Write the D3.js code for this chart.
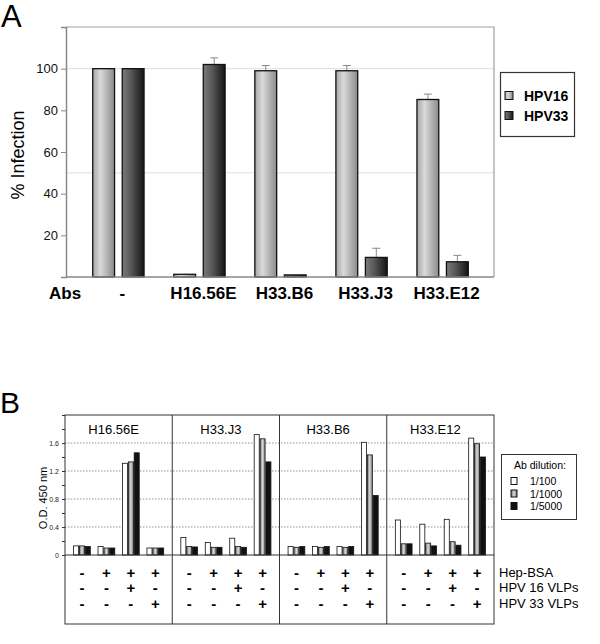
<!DOCTYPE html>
<html><head><meta charset="utf-8">
<script src="https://cdn.jsdelivr.net/npm/d3@7"></script>
<style>body{margin:0;background:#fff}svg{display:block;font-family:"Liberation Sans",Arial,sans-serif}</style>
</head><body><svg id="c" width="600" height="644"></svg>
<script>
// ---------- Panel A data ----------
const catsA = ["-", "H16.56E", "H33.B6", "H33.J3", "H33.E12"];
const seriesA = ["HPV16", "HPV33"];
const hpv16 = [100, 1.3, 99, 99, 85.2];
const hpv16Err = [0, 0, 2.5, 2.5, 2.6];
const hpv33 = [100, 102, 1.0, 9.4, 7.3];
const hpv33Err = [0, 3.2, 0, 4.4, 3.1];
const ticksA = [20, 40, 60, 80, 100];
const gridA = [50, 100];

// ---------- Panel B data ----------
const panelsB = ["H16.56E", "H33.J3", "H33.B6", "H33.E12"];
const groupsB = ["g1", "g2", "g3", "g4"];
const dilutions = ["1/100", "1/1000", "1/5000"];
const d100  = [0.13, 0.12, 1.31, 0.10,  0.25, 0.18, 0.24, 1.72,  0.12, 0.12, 0.12, 1.61,  0.50, 0.44, 0.51, 1.67];
const d1000 = [0.13, 0.10, 1.33, 0.10,  0.12, 0.11, 0.12, 1.66,  0.11, 0.11, 0.11, 1.43,  0.16, 0.17, 0.19, 1.59];
const d5000 = [0.12, 0.10, 1.46, 0.10,  0.115,0.11, 0.11, 1.33,  0.12, 0.12, 0.12, 0.85,  0.16, 0.13, 0.14, 1.40];
const ticksB = [0, 0.4, 0.8, 1.2, 1.6];
const minorB = [0, 0.2, 0.4, 0.6, 0.8, 1.0, 1.2, 1.4, 1.6, 1.8, 2.0];
const rowLabels = ["Hep-BSA", "HPV 16 VLPs", "HPV 33 VLPs"];
const signs = [["-", "+", "+", "+"], ["-", "-", "+", "-"], ["-", "-", "-", "+"]];

const svg = d3.select("#c");
const defs = svg.append("defs");
function grad(id, stops) {
  const g = defs.append("linearGradient").attr("id", id).attr("x1", "0%").attr("x2", "100%").attr("y1", "0%").attr("y2", "0%");
  stops.forEach(s => g.append("stop").attr("offset", s[0]).attr("stop-color", s[1]));
}
grad("g16", [["0%", "#a6a6a6"], ["35%", "#dadada"], ["100%", "#8a8a8a"]]);
grad("g33", [["0%", "#7a7a7a"], ["40%", "#585858"], ["100%", "#141414"]]);
grad("gB", [["0%", "#6e6e6e"], ["50%", "#dcdcdc"], ["100%", "#6e6e6e"]]);
const fillA = { HPV16: "url(#g16)", HPV33: "url(#g33)" };

// ================= Panel A =================
const A = { l: 66, r: 494, t: 27, b: 277 };
const yA = d3.scaleLinear().domain([0, 120]).range([A.b, A.t]);
const x0 = d3.scaleBand().domain(catsA).range([A.l + 1, A.r]).paddingInner(0.367).paddingOuter(0.3176);
const x1 = d3.scaleBand().domain(seriesA).range([0, x0.bandwidth()]).paddingInner(0.26);

svg.append("text").attr("x", 1).attr("y", 27).attr("font-size", 31).text("A");

const gA = svg.append("g");
gA.selectAll("line.grid").data(gridA).join("line")
  .attr("x1", A.l).attr("x2", A.r).attr("y1", d => yA(d)).attr("y2", d => yA(d))
  .attr("stroke", "#dedede").attr("stroke-width", 1);
gA.append("path").attr("d", `M${A.l},${A.t}H${A.r}V${A.b}`).attr("fill", "none").attr("stroke", "#a0a0a0").attr("stroke-width", 1.2);

const axA = gA.append("g").attr("transform", `translate(${A.l},0)`)
  .call(d3.axisLeft(yA).tickValues(ticksA).tickSize(5).tickPadding(3).tickFormat(d3.format("d")));
axA.select(".domain").attr("stroke", "#888").attr("stroke-width", 1.5);
axA.selectAll(".tick line").attr("stroke", "#888");
axA.selectAll(".tick text").attr("font-size", 13).attr("fill", "#111").attr("font-family", "Liberation Sans, Arial, sans-serif");

const rowsA = catsA.map((c, i) => ({ c, vals: [
  { s: "HPV16", v: hpv16[i], e: hpv16Err[i] },
  { s: "HPV33", v: hpv33[i], e: hpv33Err[i] } ] }));
const grpA = gA.selectAll("g.cat").data(rowsA).join("g").attr("transform", d => `translate(${x0(d.c)},0)`);
// error bars
grpA.selectAll("g.err").data(d => d.vals.filter(v => v.e > 0)).join("g").each(function (d) {
  const cx = x1(d.s) + x1.bandwidth() / 2;
  const g = d3.select(this);
  g.append("line").attr("x1", cx).attr("x2", cx).attr("y1", yA(d.v)).attr("y2", yA(d.v + d.e)).attr("stroke", "#888");
  g.append("line").attr("x1", cx - 4).attr("x2", cx + 4).attr("y1", yA(d.v + d.e)).attr("y2", yA(d.v + d.e)).attr("stroke", "#888");
});
grpA.selectAll("rect").data(d => d.vals).join("rect")
  .attr("x", d => x1(d.s)).attr("width", x1.bandwidth())
  .attr("y", d => yA(d.v)).attr("height", d => yA(0) - yA(d.v))
  .attr("fill", d => fillA[d.s]).attr("stroke", "#111").attr("stroke-width", 1.3);
gA.append("line").attr("x1", A.l).attr("x2", A.r).attr("y1", A.b).attr("y2", A.b).attr("stroke", "#888").attr("stroke-width", 1.5);

// category labels
svg.append("text").attr("x", 49).attr("y", 299).attr("font-size", 17).attr("font-weight", "bold").text("Abs");
svg.selectAll("text.catA").data(catsA).join("text").attr("class", "catA")
  .attr("x", d => x0(d) + x0.bandwidth() / 2 + 4).attr("y", 299).attr("text-anchor", "middle")
  .attr("font-size", 17).attr("font-weight", "bold").text(d => d);

svg.append("text").attr("transform", `translate(24,155) rotate(-90)`).attr("text-anchor", "middle")
  .attr("font-size", 18).text("% Infection");

// legend A
const lgA = svg.append("g");
lgA.append("rect").attr("x", 500.5).attr("y", 72.5).attr("width", 74).attr("height", 64).attr("fill", "#fff").attr("stroke", "#333").attr("stroke-width", 1.2);
seriesA.forEach((s, i) => {
  lgA.append("rect").attr("x", 505).attr("y", 91.5 + i * 20).attr("width", 8).attr("height", 8).attr("fill", fillA[s]).attr("stroke", "#111");
  lgA.append("text").attr("x", 524).attr("y", 101 + i * 20).attr("font-size", 14).attr("font-weight", "bold").text(s);
});

// ================= Panel B =================
const B = { l: 65, r: 494, t: 415, b: 624, base: 555 };
svg.append("text").attr("x", 0).attr("y", 413).attr("font-size", 30).text("B");
const yB = d3.scaleLinear().domain([0, 2]).range([B.base, B.t]);
const xp = d3.scaleBand().domain(panelsB).range([B.l, B.r]);
const xg = d3.scaleBand().domain(groupsB).range([0, xp.bandwidth()]).paddingInner(0.283).paddingOuter(0.334);
const xd = d3.scaleBand().domain(dilutions).range([0, xg.bandwidth()]);
const fillB = { "1/100": "#fff", "1/1000": "url(#gB)", "1/5000": "#111" };
const dataB = { "1/100": d100, "1/1000": d1000, "1/5000": d5000 };

const gB = svg.append("g");
gB.selectAll("line.gridB").data(ticksB.filter(d => d > 0)).join("line")
  .attr("x1", B.l).attr("x2", B.r).attr("y1", d => yB(d)).attr("y2", d => yB(d))
  .attr("stroke", "#777").attr("stroke-width", 0.8).attr("stroke-dasharray", "1.5,1.5");

// bars
panelsB.forEach((p, pi) => {
  const pg = gB.append("g").attr("transform", `translate(${xp(p)},0)`);
  groupsB.forEach((g, gi) => {
    const gg = pg.append("g").attr("transform", `translate(${xg(g)},0)`);
    gg.selectAll("rect").data(dilutions.map(d => ({ d, v: dataB[d][pi * 4 + gi] }))).join("rect")
      .attr("x", d => xd(d.d) + 0.4).attr("width", xd.bandwidth() - 0.8)
      .attr("y", d => yB(d.v)).attr("height", d => yB(0) - yB(d.v))
      .attr("fill", d => fillB[d.d]).attr("stroke", "#111").attr("stroke-width", 0.8);
  });
  pg.append("text").attr("x", xp.bandwidth() / 2 - 5).attr("y", 434).attr("text-anchor", "middle")
    .attr("font-size", 13).text(p);
  // signs
  signs.forEach((row, ri) => {
    pg.selectAll(null).data(row).join("text")
      .attr("x", (d, i) => xg(groupsB[i]) + xg.bandwidth() / 2).attr("y", 572 + ri * 15.5)
      .attr("dominant-baseline", "central").attr("text-anchor", "middle")
      .attr("font-size", 15).attr("font-weight", "bold").text(d => d);
  });
});

// frame
gB.append("rect").attr("x", B.l).attr("y", B.t).attr("width", B.r - B.l).attr("height", B.b - B.t)
  .attr("fill", "none").attr("stroke", "#333").attr("stroke-width", 1);
gB.selectAll("line.div").data(panelsB.slice(1)).join("line")
  .attr("x1", d => xp(d)).attr("x2", d => xp(d)).attr("y1", B.t).attr("y2", B.b).attr("stroke", "#333");
gB.append("line").attr("x1", B.l).attr("x2", B.r).attr("y1", B.base).attr("y2", B.base).attr("stroke", "#333");

// axis B
const axB = gB.append("g").attr("transform", `translate(${B.l},0)`)
  .call(d3.axisLeft(yB).tickValues(minorB).tickSize(3).tickPadding(3)
    .tickFormat(d => ticksB.some(t => Math.abs(t - d) < 1e-9) ? (d === 0 ? "0" : d3.format(".1f")(d)) : ""));
axB.select(".domain").remove();
axB.selectAll(".tick line").attr("stroke", "#333");
axB.selectAll(".tick text").attr("font-size", 7).attr("fill", "#222").attr("font-family", "Liberation Sans, Arial, sans-serif");
svg.append("text").attr("transform", `translate(47,498) rotate(-90)`).attr("text-anchor", "middle")
  .attr("font-size", 11).text("O.D. 450 nm");

// row labels
rowLabels.forEach((t, i) => {
  svg.append("text").attr("x", 499).attr("y", 572 + i * 15.5).attr("dominant-baseline", "central")
    .attr("font-size", 13).text(t);
});

// legend B
const lgB = svg.append("g");
lgB.append("rect").attr("x", 501.5).attr("y", 454.5).attr("width", 75).attr("height", 65).attr("fill", "#fff").attr("stroke", "#333");
lgB.append("text").attr("x", 540).attr("y", 469).attr("text-anchor", "middle").attr("font-size", 10.5).text("Ab dilution:");
dilutions.forEach((d, i) => {
  lgB.append("rect").attr("x", 511).attr("y", 477.5 + i * 12.5).attr("width", 6).attr("height", 7).attr("fill", fillB[d]).attr("stroke", "#111");
  lgB.append("text").attr("x", 530).attr("y", 481 + i * 12.5).attr("dominant-baseline", "central").attr("font-size", 10.5).text(d);
});
</script></body></html>
